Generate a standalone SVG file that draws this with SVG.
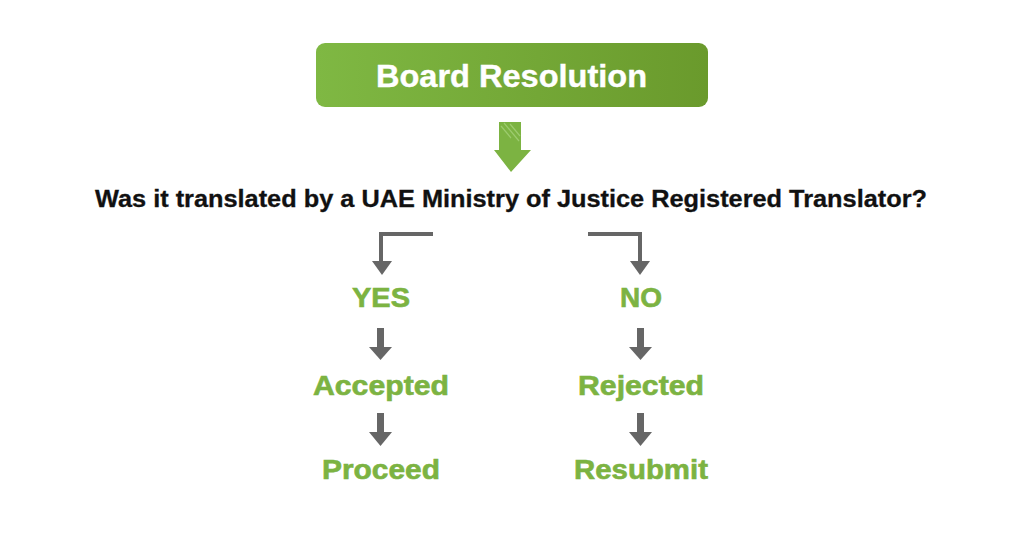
<svg xmlns="http://www.w3.org/2000/svg" width="1024" height="536" viewBox="0 0 1024 536">
<defs>
<linearGradient id="boxg" x1="0" y1="0" x2="1" y2="0">
<stop offset="0" stop-color="#7fb843"/>
<stop offset="1" stop-color="#6a9a2c"/>
</linearGradient>
</defs>
<style>
.lbl{font-family:"Liberation Sans",Arial,sans-serif;font-weight:bold;fill:#7cb342;stroke:#7cb342;stroke-width:0.6;font-size:27px;text-anchor:middle}
.q{font-family:"Liberation Sans",Arial,sans-serif;font-weight:bold;fill:#111;stroke:#111;stroke-width:0.3;font-size:23px}
.title{font-family:"Liberation Sans",Arial,sans-serif;font-weight:bold;fill:#fff;stroke:#fff;stroke-width:0.4;font-size:31px}
.conn{fill:none;stroke:#666;stroke-width:4}
.ah{fill:#666}
</style>
<rect width="1024" height="536" fill="#fff"/>
<g id="board-resolution">
<rect x="316" y="43" width="392" height="64" rx="9" fill="url(#boxg)"/>
<text class="title" x="376" y="87" textLength="271" lengthAdjust="spacingAndGlyphs">Board Resolution</text>
</g>
<g id="question">
<text class="q" x="95" y="207" textLength="832" lengthAdjust="spacingAndGlyphs">Was it translated by a UAE Ministry of Justice Registered Translator?</text>
</g>
<g id="yes"><text class="lbl" x="381" y="307" textLength="58" lengthAdjust="spacingAndGlyphs">YES</text></g>
<g id="no"><text class="lbl" x="641" y="307" textLength="42" lengthAdjust="spacingAndGlyphs">NO</text></g>
<g id="accepted"><text class="lbl" x="381" y="395" textLength="136" lengthAdjust="spacingAndGlyphs">Accepted</text></g>
<g id="rejected"><text class="lbl" x="641" y="395" textLength="126" lengthAdjust="spacingAndGlyphs">Rejected</text></g>
<g id="proceed"><text class="lbl" x="381" y="479" textLength="118" lengthAdjust="spacingAndGlyphs">Proceed</text></g>
<g id="resubmit"><text class="lbl" x="641" y="479" textLength="134" lengthAdjust="spacingAndGlyphs">Resubmit</text></g>
<g id="connectors">
<polygon points="499,122 521,122 521,150 531,150 511,172 494,150 499,150" fill="#7cb342"/>
<g stroke="#a6d27a" stroke-width="1.2" opacity="0.8">
<line x1="501" y1="126" x2="511" y2="138"/>
<line x1="504" y1="123" x2="519" y2="141"/>
<line x1="510" y1="124" x2="520" y2="136"/>
</g>
<path class="conn" d="M433,234 H381 V262"/>
<polygon class="ah" points="372,261 392,261 382,275"/>
<path class="conn" d="M588,234 H640 V262"/>
<polygon class="ah" points="630,261 650,261 640,275"/>
<rect class="ah" x="377" y="328" width="7" height="20"/>
<polygon class="ah" points="369,347 392,347 380.5,360"/>
<rect class="ah" x="637" y="328" width="7" height="20"/>
<polygon class="ah" points="629,347 652,347 640.5,360"/>
<rect class="ah" x="377" y="413" width="7" height="20"/>
<polygon class="ah" points="369,432 392,432 380.5,446"/>
<rect class="ah" x="637" y="413" width="7" height="20"/>
<polygon class="ah" points="629,432 652,432 640.5,446"/>
</g>
</svg>
